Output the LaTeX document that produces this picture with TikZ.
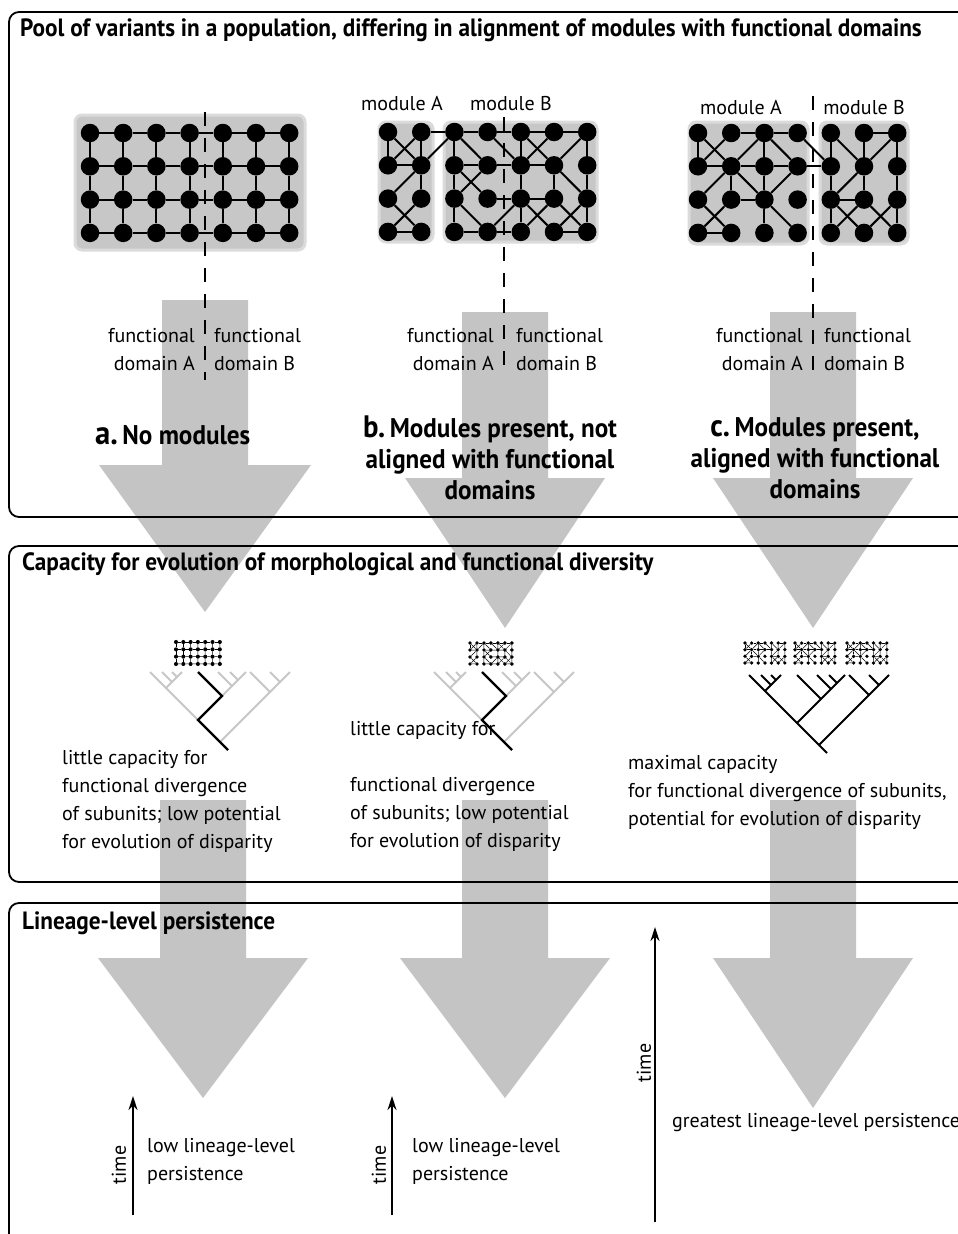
\documentclass[tikz,border=0pt]{standalone}
\usepackage{fontspec}
\setmainfont{PT Sans}
\newfontfamily\cond[FakeStretch=0.93]{PT Sans}
\usetikzlibrary{arrows.meta}
\definecolor{arrowgray}{gray}{0.77}
\definecolor{blobgray}{gray}{0.78}
\definecolor{halogray}{gray}{0.86}
\definecolor{treegray}{gray}{0.78}

\newcommand\netnodes[1]{%
  \foreach \c in {1,...,7}{\foreach \r in {1,...,4}{%
    \node[dot] (#1-\c-\r) at ({(\c-1)*33.2},{(\r-1)*33.3}) {};}}}

\newcommand\netA[1]{\netnodes{#1}%
  \foreach \c in {1,...,6}{\pgfmathtruncatemacro\cn{\c+1}%
    \foreach \r in {1,...,4}{\draw[edge] (#1-\c-\r) -- (#1-\cn-\r);}}%
  \foreach \r in {1,2,3}{\pgfmathtruncatemacro\rn{\r+1}%
    \foreach \c in {1,...,7}{\draw[edge] (#1-\c-\r) -- (#1-\c-\rn);}}}

\newcommand\netB[1]{\netnodes{#1}%
  \foreach \ia/\ib/\ja/\jb in {1/1/1/2, 2/1/2/2, 1/1/2/2, 2/1/1/2, 1/2/2/2, 2/2/2/3, 2/2/1/3,
    1/3/2/4, 2/3/1/4, 1/4/2/4, 2/1/3/1, 2/2/3/1,
    3/1/4/1, 4/1/5/1, 5/1/6/1, 6/1/7/1, 3/1/3/2, 3/1/4/2, 4/1/5/2, 3/2/4/2, 4/2/5/2,
    3/2/3/3, 3/3/4/2, 3/2/4/3, 4/3/5/3, 3/3/3/4, 3/3/4/4, 3/4/4/4, 4/4/5/3, 4/4/5/4,
    5/1/5/2, 5/2/5/3, 5/3/5/4, 5/1/6/2, 6/1/5/2, 7/1/6/2, 7/1/7/2, 5/2/6/2, 6/2/7/3,
    6/2/6/3, 7/2/7/3, 7/3/7/4, 5/3/6/3, 5/3/6/4, 6/3/5/4, 6/3/7/4, 7/3/6/4, 6/4/7/4}
  {\draw[edge] (#1-\ia-\ib) -- (#1-\ja-\jb);}}

\newcommand\netC[1]{\netnodes{#1}%
  \foreach \ia/\ib/\ja/\jb in {1/1/1/2, 1/1/2/2, 2/1/1/2, 2/1/3/1, 3/1/4/1, 3/1/2/2, 3/1/3/2,
    3/1/4/2, 1/2/2/2, 2/2/3/2, 3/2/4/2, 2/2/1/3, 2/2/3/3, 2/2/2/3, 3/2/3/3, 4/2/3/3,
    2/3/3/3, 1/3/2/4, 2/3/1/4, 3/3/3/4, 3/3/4/4, 1/4/2/4, 4/1/5/2, 4/2/5/2,
    5/1/5/2, 5/1/6/2, 6/1/7/1, 6/1/6/2, 7/1/6/2, 7/1/7/2, 5/2/5/3, 6/2/5/3, 6/2/6/3,
    5/3/6/3, 5/3/5/4, 5/3/6/4, 6/3/5/4, 6/3/7/4, 7/3/6/4, 7/2/7/3, 7/3/7/4}
  {\draw[edge] (#1-\ia-\ib) -- (#1-\ja-\jb);}}

\newcommand\garrow[6]{%
  \fill[arrowgray] ({#1-#2},#3) -- ({#1+#2},#3) -- ({#1+#2},#4) -- ({#1+#5},#4)
    -- (#1,#6) -- ({#1-#5},#4) -- ({#1-#2},#4) -- cycle;}

\newcommand\treelines{%
  \draw (0,0) -- (-78,-78);
  \draw (-62,-62) -- (-46,-78);
  \draw (-56,-68) -- (-66,-78);
  \draw (-51,-73) -- (-56,-78);
  \draw (-30,-30) -- (18,-78);
  \draw (-6,-54) -- (-30,-78);
  \draw (4,-64) -- (-10,-78);
  \draw (10,-70) -- (2,-78);
  \draw (-8,-8) -- (62,-78);
  \draw (42,-58) -- (22,-78);
  \draw (52,-68) -- (42,-78);}

\begin{document}
\begin{tikzpicture}[x=1pt,y=-1pt,
  dot/.style={circle,fill=black,inner sep=0pt,minimum size=18.5pt},
  edge/.style={line width=2pt},
  blob/.style={fill=blobgray,draw=halogray,line width=3pt,rounded corners=7pt},
  panel/.style={line width=1.8pt,rounded corners=10pt},
  dashline/.style={line width=2.6pt,dash pattern=on 14pt off 12pt},
  title/.style={font={\cond\bfseries\fontsize{25}{28}\selectfont},inner sep=0pt},
  lab/.style={font={\cond\bfseries\fontsize{27}{31}\selectfont},inner sep=0pt},
  txt/.style={font={\fontsize{20}{28}\selectfont},inner sep=0pt},
  timearrow/.style={line width=1.6pt,-{Stealth[length=14pt,width=9pt]}}]
\useasboundingbox (0,0) rectangle (958,1234);
\clip (0,0) rectangle (958,1234);
\fill[white] (0,0) rectangle (958,1234);

% big gray arrows
\garrow{205}{43}{300}{465}{106}{612}
\garrow{505}{43}{312}{478}{100}{628}
\garrow{813}{43}{312}{478}{100}{628}
\garrow{203}{43}{800}{958}{105}{1098}
\garrow{505}{43}{800}{958}{105}{1098}
\garrow{813}{43}{800}{958}{100}{1108}

% panels
\draw[panel] (980,12) -- (9,12) -- (9,517) -- (980,517);
\draw[panel] (980,546) -- (9,546) -- (9,882) -- (980,882);
\draw[panel] (980,903) -- (9,903) -- (9,1260);

% titles
\node[title,anchor=base west] (t1) at (20,36) {Pool of variants in a population, differing in alignment of modules with functional domains};
\node[title,anchor=base west] (t2) at (22,570) {Capacity for evolution of morphological and functional diversity};
\node[title,anchor=base west] (t3) at (22,929) {Lineage-level persistence};

% network blobs
\draw[blob] (75,115) rectangle (305,250);
\draw[blob] (379,122) rectangle (433,242);
\draw[blob] (444,122) rectangle (597,242);
\draw[blob] (689,122) rectangle (808,244);
\draw[blob] (820,122) rectangle (908,244);

% networks
\begin{scope}[shift={(90,133)}] \netA{na} \end{scope}
\begin{scope}[shift={(388,132)}] \netB{nb} \end{scope}
\begin{scope}[shift={(698,133)}] \netC{nc} \end{scope}

% dashed domain boundaries
\coordinate (da0) at (205,112); \coordinate (da1) at (205,380);
\coordinate (db0) at (504,117); \coordinate (db1) at (504,376);
\coordinate (dc0) at (813,96);  \coordinate (dc1) at (813,378);
\draw[dashline] (da0) -- (da1);
\draw[dashline] (db0) -- (db1);
\draw[dashline] (dc0) -- (dc1);

% module labels
\node[txt] (mbA) at (402,104) {module A};
\node[txt] (mbB) at (511,104) {module B};
\node[txt] (mcA) at (741,108) {module A};
\node[txt] (mcB) at (864,108) {module B};

% functional domain labels
\node[txt,anchor=north east,align=right] (fa1) at (195,328) {functional\\domain A};
\node[txt,anchor=north west,align=left]  (fa2) at (214,328) {functional\\domain B};
\node[txt,anchor=north east,align=right] (fb1) at (494,328) {functional\\domain A};
\node[txt,anchor=north west,align=left]  (fb2) at (516,328) {functional\\domain B};
\node[txt,anchor=north east,align=right] (fc1) at (803,328) {functional\\domain A};
\node[txt,anchor=north west,align=left]  (fc2) at (824,328) {functional\\domain B};

% case labels
\node[lab,anchor=base west] (la) at (95,444) {{\fontsize{33}{31}\selectfont a.}\,No modules};
\node[lab,align=center] (lb) at (490,458) {{\fontsize{31}{31}\selectfont b.}\,Modules present, not\\aligned with functional\\domains};
\node[lab,align=center] (lc) at (815,458) {{\fontsize{31}{31}\selectfont c.}\,Modules present,\\aligned with functional\\domains};

% tiny networks
\begin{scope}[shift={(176,642)},scale=0.22,transform shape,edge/.style={line width=0.5pt}] \netA{sa} \end{scope}
\begin{scope}[shift={(470,643)},scale=0.21,transform shape,edge/.style={line width=0.5pt}] \netB{sb} \end{scope}
\begin{scope}[shift={(745,643)},scale=0.2,transform shape,edge/.style={line width=0.5pt}] \netC{sc1} \end{scope}
\begin{scope}[shift={(795,643)},scale=0.2,transform shape,edge/.style={line width=0.5pt}] \netC{sc2} \end{scope}
\begin{scope}[shift={(847,643)},scale=0.2,transform shape,edge/.style={line width=0.5pt}] \netC{sc3} \end{scope}

% trees
\begin{scope}[shift={(228,750)},line width=2pt,draw=treegray] \treelines \end{scope}
\draw[shift={(228,750)},line width=2.4pt] (0,0) -- (-30,-30) -- (-6,-54) -- (-30,-78);
\begin{scope}[shift={(512,750)},line width=2pt,draw=treegray] \treelines \end{scope}
\draw[shift={(512,750)},line width=2.4pt] (0,0) -- (-30,-30) -- (-6,-54) -- (-30,-78);
\begin{scope}[shift={(827,753)},line width=2pt] \treelines \end{scope}

% capacity texts
\node[txt,anchor=north west,align=left] (ca) at (62,750) {little capacity for\\functional divergence\\of subunits; low potential\\for evolution of disparity};
\node[txt,anchor=north west,align=left] (cb1) at (350,721) {little capacity for};
\node[txt,anchor=north west,align=left] (cb2) at (350,777) {functional divergence\\of subunits; low potential\\for evolution of disparity};
\node[txt,anchor=north west,align=left] (cc) at (628,755) {maximal capacity\\for functional divergence of subunits,\\potential for evolution of disparity};

% time arrows
\coordinate (ta0) at (133,1215); \coordinate (ta1) at (133,1096);
\coordinate (tb0) at (392,1215); \coordinate (tb1) at (392,1096);
\coordinate (tc0) at (655,1222); \coordinate (tc1) at (655,927);
\draw[timearrow] (ta0) -- (ta1);
\draw[timearrow] (tb0) -- (tb1);
\draw[timearrow] (tc0) -- (tc1);
\node[txt,rotate=90] (tma) at (119,1165) {time};
\node[txt,rotate=90] (tmb) at (379,1165) {time};
\node[txt,rotate=90] (tmc) at (644,1063) {time};

% persistence texts
\node[txt,anchor=north west,align=left] (pa) at (147,1138) {low lineage-level\\persistence};
\node[txt,anchor=north west,align=left] (pb) at (412,1138) {low lineage-level\\persistence};
\node[txt,anchor=west] (pc) at (672,1123) {greatest lineage-level persistence};
\end{tikzpicture}
\end{document}
